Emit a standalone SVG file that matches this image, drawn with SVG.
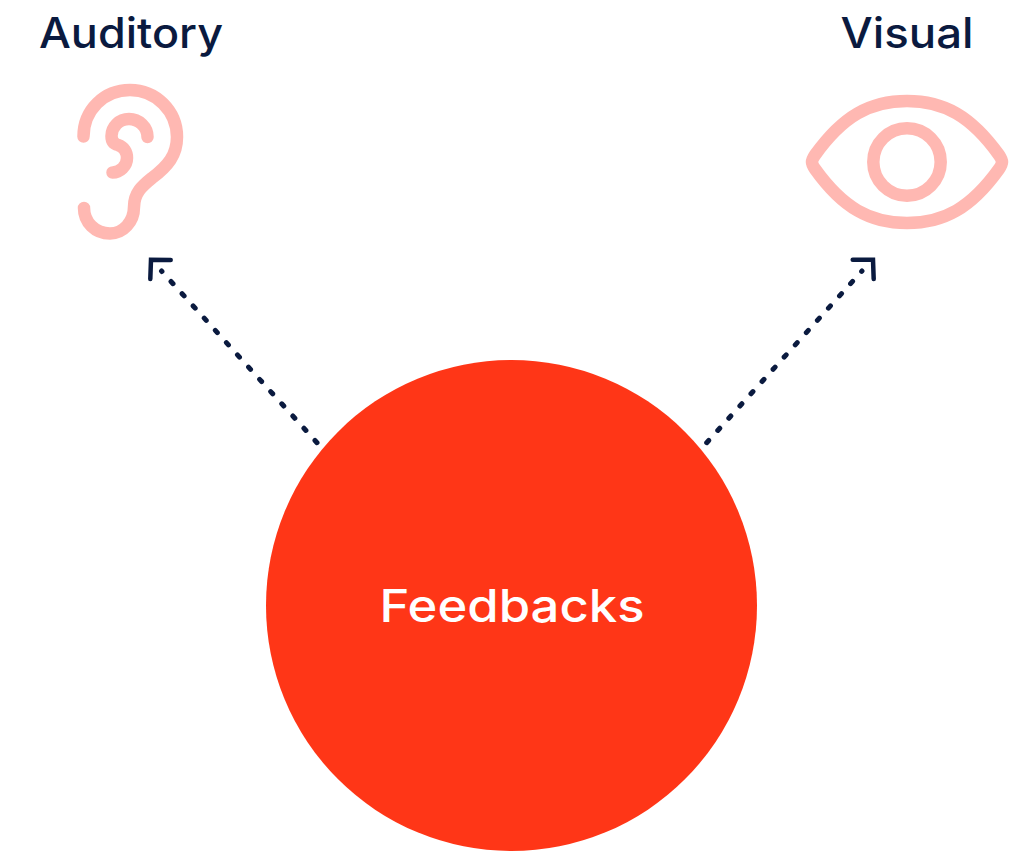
<svg xmlns="http://www.w3.org/2000/svg" width="1024" height="851" viewBox="0 0 1024 851">
<style>
.t{font-family:"Inter","Liberation Sans",sans-serif;font-weight:500;font-size:42px;text-anchor:middle}
.ink{fill:#0a1a3f}
.icon{fill:none;stroke:#ffb8b2;stroke-width:12.500;stroke-linecap:round;stroke-linejoin:round}
.dot{fill:none;stroke:#0a1a3f;stroke-width:5;stroke-linecap:round;stroke-dasharray:3 13.500}
.head{fill:none;stroke:#0a1a3f;stroke-width:4.500;stroke-linecap:round;stroke-linejoin:miter}
</style>
<rect width="1024" height="851" fill="#fff"/>
<g id="connectors">
<path class="dot" d="M317 442.700L161.500 271"/>
<path class="head" d="M170.700 260L151 259.700L150.300 279"/>
<path class="dot" d="M706.700 442.700L862 271"/>
<path class="head" d="M852.700 259.700L873 259.700L873.700 279"/>
</g>
<g id="feedbacks">
<circle cx="511.500" cy="605.500" r="245.500" fill="#ff3617"/>
<text class="t" x="512" y="622" fill="#fff" style="font-size:45px" textLength="265" lengthAdjust="spacingAndGlyphs">Feedbacks</text>
</g>
<g id="auditory">
<text class="t ink" x="131" y="48" textLength="184" lengthAdjust="spacingAndGlyphs">Auditory</text>
<path class="icon" d="M83.500 136.500C83.500 110 104 90 130 90C156 90 177 111 177 137C177 155 168 166 152 178C142 186 134 193 134 207C134 222 123 233.500 110 233.500C95 233.500 84 222 84 208"/>
<path class="icon" d="M147.500 137C147.500 127 139 119 129 119C119 119 111.500 127 111.500 136C111.500 141 114 144 118 145C124 147 127 152 127 158C127 166 120 172.500 112.500 172.500"/>
</g>
<g id="visual">
<text class="t ink" x="907" y="48" textLength="133" lengthAdjust="spacingAndGlyphs">Visual</text>
<path class="icon" d="M812 162C812 160 813 158 815 155C843 116 870 101 907 101C944 101 971 116 999 155C1001 158 1002 160 1002 162C1002 164 1001 166 999 169C971 208 944 223 907 223C870 223 843 208 815 169C813 166 812 164 812 162Z"/>
<circle class="icon" cx="907" cy="162" r="33.700"/>
</g>
</svg>
